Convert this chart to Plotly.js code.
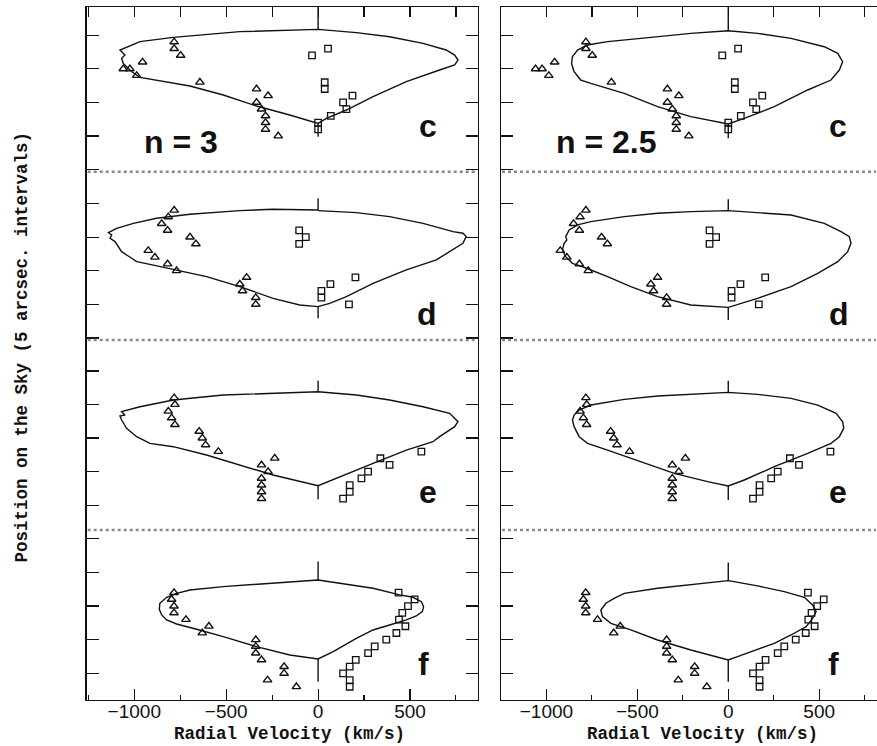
<!DOCTYPE html>
<html><head><meta charset="utf-8">
<script src="https://cdn.plot.ly/plotly-3.0.1.min.js"></script>
<style>html,body{margin:0;padding:0;background:#fff}#chart{width:877px;height:746px}</style>
</head><body><div id="chart"></div>
<script>
// ---------- observed data (shared by both columns) ----------
const vSys = 0;
const velTicks = [-1000, -500, 0, 500];
const velTickText = ['\u22121000', '\u2212500', '0', '500'];
const panelLetters = ['c', 'd', 'e', 'f'];
const modelLabels = ['n = 3', 'n = 2.5'];

const cTriX = [-783, -783, -748, -955, -1060, -1024, -987, -643, -335, -272, -335, -308, -286, -286, -286, -217];
const cTriY = [14, 13, 12, 11, 10, 10, 9, 8, 7, 6, 5, 4, 3, 2, 1, 0];
const cSqX = [-33, 54, 36, 36, 187, 136, 154, 69, 0, 0];
const cSqY = [12, 13, 8, 7, 6, 5, 4, 3, 2, 1];

const dTriX = [-783, -815, -851, -819, -697, -665, -924, -888, -819, -770, -389, -426, -411, -339, -339];
const dTriY = [14, 13, 12, 11, 10, 9, 8, 7, 6, 5, 4, 3, 2, 1, 0];
const dSqX = [-103, -67, -103, 203, 67, 18, 18, 168];
const dSqY = [11, 10, 9, 4, 3, 2, 1, 0];

const eTriX = [-783, -779, -815, -797, -779, -647, -630, -612, -543, -236, -308, -272, -308, -308, -308, -308];
const eTriY = [11, 10, 9, 8, 7, 6, 5, 4, 3, 2, 1, 0, -1, -2, -3, -4];
const eSqX = [562, 339, 389, 272, 236, 172, 172, 136];
const eSqY = [3, 2, 1, 0, -1, -2, -3, -4];

const fTriX = [-784, -797, -784, -784, -719, -594, -630, -339, -339, -339, -308, -185, -185, -275, -118];
const fTriY = [12, 11, 10, 9, 8, 7, 6, 5, 4, 3, 2, 1, 0, -1, -2];
const fSqX = [438, 525, 489, 458, 440, 475, 426, 371, 308, 272, 205, 172, 136, 172, 172];
const fSqY = [12, 11, 10, 9, 8, 7, 6, 5, 4, 3, 2, 1, 0, -1, -2];

// ---------- model curves ----------
const modelC3X = [0, -426, -788, -969, -1078, -1051, -1069, -1060, -1042, -1014, -969, -697, -516, -335, -154, 0, 45, 154, 299, 480, 661, 743, 761, 743, 697, 571, 389, 208, 0];
const modelC3Y = [15.87, 15.53, 14.68, 14.04, 12.8, 12.05, 11.56, 10.81, 10.32, 9.57, 8.73, 7.44, 6.1, 4.46, 3.13, 1.88, 2.63, 3.87, 5.85, 8.09, 9.82, 10.57, 11.31, 12.05, 12.8, 13.79, 14.78, 15.38, 15.87];
const modelC25X = [0, -206, -481, -664, -774, -829, -857, -862, -848, -811, -756, -572, -389, -206, 0, 88, 253, 437, 565, 611, 629, 602, 528, 345, 161, 0];
const modelC25Y = [15.67, 15.28, 14.53, 14.04, 13.54, 12.8, 11.81, 10.81, 9.57, 8.33, 7.84, 6.35, 4.37, 2.88, 1.79, 2.63, 4.37, 6.85, 8.33, 9.82, 11.06, 12.3, 13.29, 14.53, 15.28, 15.67];

const modelD3X = [0, -63, -245, -426, -697, -879, -1005, -1096, -1141, -1123, -1132, -1105, -1087, -1069, -1033, -987, -915, -770, -607, -426, -245, -100, 0, 63, 154, 299, 480, 643, 716, 788, 806, 788, 734, 571, 389, 208, 0];
const modelD3Y = [14.04, 14.04, 14.14, 13.94, 13.39, 12.8, 12.05, 11.31, 10.66, 10.32, 9.82, 9.33, 8.58, 7.84, 7.19, 6.35, 5.95, 5.11, 4.12, 2.63, 0.89, -0.1, -0.35, 0.15, 1.14, 3.13, 5.11, 6.6, 7.84, 9.08, 10.07, 10.57, 10.81, 12.05, 13.04, 13.64, 13.94];
const modelD25X = [0, -206, -389, -572, -756, -829, -875, -894, -888, -903, -912, -894, -857, -793, -664, -536, -389, -206, 0, 70, 161, 345, 492, 602, 657, 675, 666, 620, 528, 345, 161, 0];
const modelD25Y = [13.94, 13.79, 13.54, 13.05, 12.3, 11.81, 11.06, 10.07, 9.57, 9.08, 8.09, 7.09, 6.1, 5.51, 4.12, 2.63, 1.14, -0.1, -0.45, 0.15, 0.89, 2.63, 4.61, 6.35, 7.84, 9.08, 10.07, 10.81, 12.05, 13.29, 13.69, 13.94];

const modelE3X = [0, -245, -516, -788, -969, -1069, -1051, -1078, -1069, -1042, -987, -915, -788, -607, -426, -245, 0, 118, 299, 480, 625, 661, 743, 761, 716, 571, 389, 208, 0];
const modelE3Y = [11.9, 11.66, 11.41, 10.66, 9.67, 8.93, 8.43, 8.28, 7.69, 6.45, 5.21, 4.22, 3.72, 2.48, 0.99, -0.5, -2.08, -0.74, 1.24, 3.22, 4.46, 5.21, 6.7, 7.44, 8.68, 9.67, 10.66, 11.41, 11.9];
const modelE25X = [0, -206, -389, -572, -756, -820, -848, -857, -848, -820, -774, -664, -481, -297, -114, 0, 88, 253, 437, 565, 611, 635, 629, 593, 492, 345, 161, 0];
const modelE25Y = [11.81, 11.56, 11.26, 10.76, 9.92, 9.18, 8.43, 7.69, 6.7, 5.21, 4.22, 3.22, 1.49, -0.25, -1.49, -2.13, -1.24, 0.74, 2.73, 4.22, 5.21, 6.45, 7.44, 8.68, 9.92, 10.91, 11.51, 11.81];

const modelF3X = [0, -245, -516, -697, -770, -824, -861, -864, -851, -824, -770, -661, -516, -335, -154, 0, 82, 208, 299, 389, 480, 534, 567, 574, 562, 516, 444, 299, 118, 0];
const modelF3Y = [13.89, 13.39, 12.9, 12.4, 11.9, 11.31, 10.42, 9.52, 8.68, 7.94, 7.34, 6.55, 5.46, 3.97, 2.73, 2.13, 3.22, 5.21, 6.45, 7.19, 7.94, 8.53, 9.18, 9.92, 10.66, 11.31, 11.66, 12.65, 13.39, 13.89];
const modelF25X = [0, -206, -389, -572, -628, -673, -701, -692, -646, -536, -389, -206, -59, 0, 51, 125, 253, 345, 428, 464, 483, 464, 418, 308, 161, 0];
const modelF25Y = [13.79, 13.14, 12.65, 11.9, 11.16, 10.42, 9.42, 8.43, 7.44, 6.45, 4.96, 3.47, 2.48, 1.98, 2.48, 3.22, 4.46, 5.7, 6.94, 8.18, 9.18, 10.17, 11.31, 12.15, 13.0, 13.79];

// central stems: [top end, top vertex, bottom vertex, bottom end]
const stemC3 = [19.6, 15.87, 1.88, -0.1];
const stemC25 = [19.6, 15.67, 1.79, -0.35];
const stemD3 = [15.77, 14.04, -0.35, -2.08];
const stemD25 = [15.63, 13.94, -0.45, -2.33];
const stemE3 = [13.54, 11.9, -2.08, -4.12];
const stemE25 = [13.54, 11.81, -2.13, -4.22];
const stemF3 = [16.62, 13.89, 2.13, -1.24];
const stemF25 = [16.47, 13.79, 1.98, -1.24];

// ---------- build ----------
const W = 877, H = 746;
const fx = p => p / W;
const fy = p => (H - p) / H;
const colPx = [[86.7, 478], [501, 877]];
const rowPx = [[7, 171.7], [171.7, 340], [340, 530], [530, 700]];
const xRanges = [[-1259, 870], [-1250, 818]];
const yRanges = [[-5.31, 19.2], [-5.31, 19.73], [-8.68, 19.6], [-3.97, 21.32]];

const obs = [
  [cTriX, cTriY, cSqX, cSqY],
  [dTriX, dTriY, dSqX, dSqY],
  [eTriX, eTriY, eSqX, eSqY],
  [fTriX, fTriY, fSqX, fSqY]
];
const models = [
  [[modelC3X, modelC3Y, stemC3], [modelC25X, modelC25Y, stemC25]],
  [[modelD3X, modelD3Y, stemD3], [modelD25X, modelD25Y, stemD25]],
  [[modelE3X, modelE3Y, stemE3], [modelE25X, modelE25Y, stemE25]],
  [[modelF3X, modelF3Y, stemF3], [modelF25X, modelF25Y, stemF25]]
];
// label positions in data units [x, y]
const letterPos = [[[597, 1.49], [603, 1.49]], [[594, -1.44], [608, -1.44]], [[600, -3.02], [601, -3.02]], [[575, 1.38], [581, 1.38]]];
const nPos = [[-744, -0.95], [-670, -0.89]];

const data = [];
const layout = {
  width: W, height: H,
  margin: {l: 0, r: 0, t: 0, b: 0},
  paper_bgcolor: '#fff', plot_bgcolor: '#fff',
  showlegend: false,
  annotations: [], shapes: []
};
const LINE = '#111';
const labelFont = {family: 'Liberation Sans, Arial, sans-serif', size: 32, color: '#111', weight: 'bold'};

for (let r = 0; r < 4; r++) {
  for (let c = 0; c < 2; c++) {
    const k = r * 2 + c + 1;
    const xn = k === 1 ? 'x' : 'x' + k;
    const yn = k === 1 ? 'y' : 'y' + k;
    const [mx, my, st] = models[r][c];
    const [tx, ty, sx, sy] = obs[r];
    data.push({type: 'scatter', mode: 'lines', x: mx, y: my, xaxis: xn, yaxis: yn,
      line: {color: LINE, width: 1.4}, hoverinfo: 'skip'});
    data.push({type: 'scatter', mode: 'lines', x: [vSys, vSys, null, vSys, vSys],
      y: [st[0], st[1], null, st[2], st[3]], xaxis: xn, yaxis: yn,
      line: {color: LINE, width: 1.4}, hoverinfo: 'skip'});
    data.push({type: 'scatter', mode: 'markers', x: tx, y: ty, xaxis: xn, yaxis: yn,
      marker: {symbol: 'triangle-up-open', size: 7.5, color: LINE, line: {width: 1.4, color: LINE}}, cliponaxis: false});
    data.push({type: 'scatter', mode: 'markers', x: sx, y: sy, xaxis: xn, yaxis: yn,
      marker: {symbol: 'square-open', size: 6.5, color: LINE, line: {width: 1.3, color: LINE}}, cliponaxis: false});

    const xa = {
      domain: [fx(colPx[c][0]), fx(colPx[c][1])], range: xRanges[c], anchor: yn,
      showgrid: false, zeroline: false, fixedrange: true
    };
    if (r === 0) {
      Object.assign(xa, {side: 'top', showline: true, linecolor: LINE, linewidth: 1.4,
        ticks: 'inside', ticklen: 10, tickwidth: 1.2, tickcolor: LINE, dtick: 250, tick0: 0, showticklabels: false});
    } else if (r === 3) {
      Object.assign(xa, {side: 'bottom', showline: true, linecolor: LINE, linewidth: 1.4,
        ticks: 'inside', ticklen: 11, tickwidth: 1.2, tickcolor: LINE,
        tickmode: 'array', tickvals: velTicks, ticktext: velTickText, showticklabels: true,
        ticklabelstandoff: -6,
        tickfont: {family: 'Liberation Sans, Arial, sans-serif', size: 19, color: '#111'},
        minor: {ticks: 'inside', ticklen: 5, tickwidth: 1.1, tickcolor: LINE, dtick: 250, tick0: 0}});
    } else {
      Object.assign(xa, {showline: false, ticks: '', showticklabels: false});
    }
    const ya = {
      domain: [fy(rowPx[r][1]), fy(rowPx[r][0])], range: yRanges[r], anchor: xn,
      showgrid: false, zeroline: false, fixedrange: true,
      showline: true, linecolor: LINE, linewidth: 1.4, mirror: c === 0 ? 'ticks' : false,
      ticks: 'inside', ticklen: 12, tickwidth: 1.2, tickcolor: LINE, tick0: 0, dtick: 5,
      showticklabels: false
    };
    layout['xaxis' + (k === 1 ? '' : k)] = xa;
    layout['yaxis' + (k === 1 ? '' : k)] = ya;

    layout.annotations.push({xref: xn, yref: yn, x: letterPos[r][c][0], y: letterPos[r][c][1],
      text: panelLetters[r], showarrow: false, xanchor: 'center', yanchor: 'middle', font: labelFont});
    if (r === 0) {
      layout.annotations.push({xref: xn, yref: yn, x: nPos[c][0], y: nPos[c][1],
        text: modelLabels[c], showarrow: false, xanchor: 'center', yanchor: 'middle', font: labelFont});
    }
    if (r < 3) {
      layout.shapes.push({type: 'line', xref: 'paper', yref: 'paper',
        x0: fx(colPx[c][0] + 1), x1: fx(colPx[c][1] - 1), y0: fy(rowPx[r][1]), y1: fy(rowPx[r][1]),
        line: {color: '#8a8a8a', width: 2.5, dash: 'dot'}});
    }
  }
}
const titleFont = {family: 'Liberation Mono, Courier New, monospace', size: 17.5, color: '#111', weight: 'bold'};
layout.annotations.push({xref: 'paper', yref: 'paper', x: fx(289), y: fy(734), text: 'Radial Velocity (km/s)',
  showarrow: false, xanchor: 'center', yanchor: 'middle', font: titleFont});
layout.annotations.push({xref: 'paper', yref: 'paper', x: fx(702.5), y: fy(734), text: 'Radial Velocity (km/s)',
  showarrow: false, xanchor: 'center', yanchor: 'middle', font: titleFont});
layout.annotations.push({xref: 'paper', yref: 'paper', x: fx(21), y: fy(347.5), text: 'Position on the Sky (5 arcsec. intervals)',
  showarrow: false, xanchor: 'center', yanchor: 'middle', textangle: -90, font: titleFont});

Plotly.newPlot('chart', data, layout, {staticPlot: true, displayModeBar: false});
</script>
</body></html>
